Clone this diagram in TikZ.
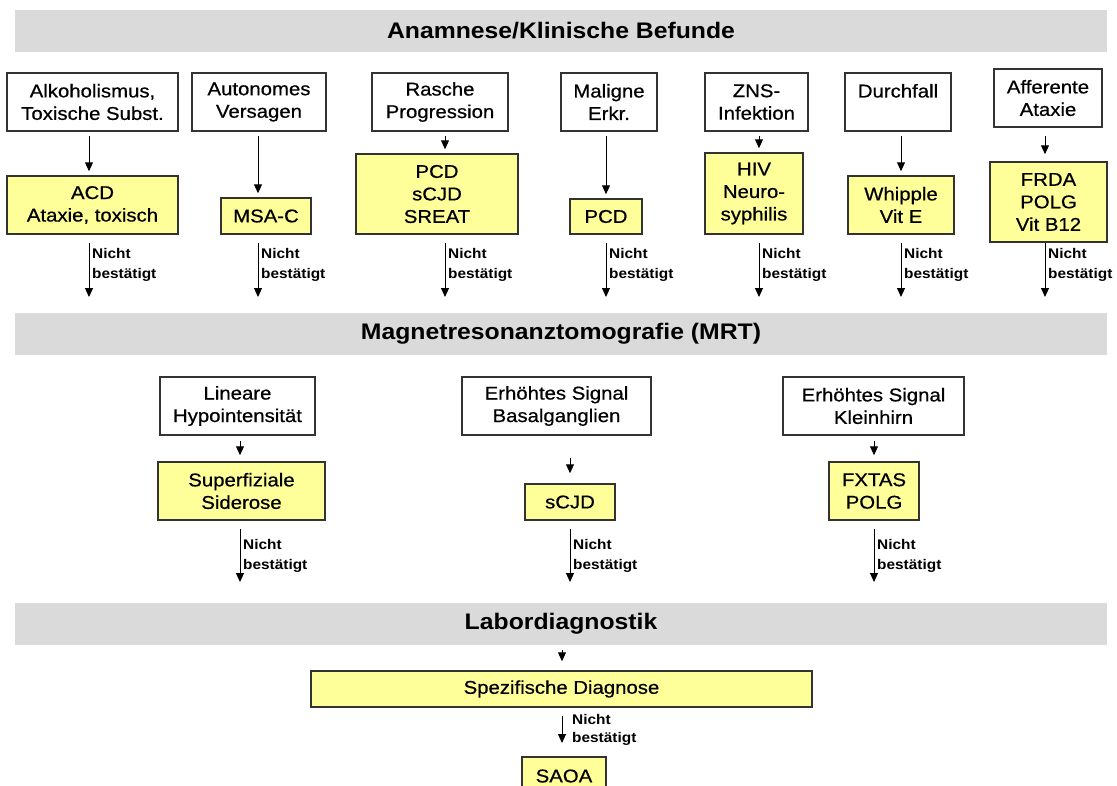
\documentclass[tikz,border=0pt]{standalone}
\usepackage{fontspec}
\setmainfont[FakeStretch=1.1]{Liberation Sans}
\newfontfamily\boxfont[FakeStretch=1.1,FakeBold=0.6]{Liberation Sans}
\usetikzlibrary{arrows.meta}
\definecolor{bandgray}{HTML}{DADADA}
\definecolor{ylw}{HTML}{FFFF99}
\definecolor{bord}{HTML}{333333}
\tikzset{
 box/.style={draw=bord, line width=1.5pt, inner sep=0pt, align=center, font=\boxfont\fontsize{18.5}{22.5}\selectfont},
 wbox/.style={box, fill=white},
 ybox/.style={box, fill=ylw},
 band/.style={fill=bandgray, draw=none, inner sep=0pt, font=\bfseries\fontsize{22.5}{26}\selectfont, minimum width=1092pt, minimum height=42pt},
 arr/.style={-{Triangle[length=9pt,width=8pt]}, line width=1pt, black},
 nb/.style={anchor=north west, inner sep=0pt, align=left, font=\bfseries\fontsize{14}{20}\selectfont},
}
\begin{document}
\begin{tikzpicture}[x=1pt,y=-1pt]
\clip (0,0) rectangle (1117,785);
\useasboundingbox (0,0) rectangle (1117,785);
\fill[white] (0,0) rectangle (1117,785);

% ---------- Section 1 ----------
\node[band] (h1) at (561,31) {Anamnese/Klinische Befunde};

\node[wbox, minimum width=171pt, minimum height=58pt] (a1) at (92.5,102) {Alkoholismus,\\Toxische Subst.};
\node[wbox, minimum width=134pt, minimum height=58pt] (a2) at (259,102) {Autonomes\\Versagen};
\node[wbox, minimum width=136pt, minimum height=58pt] (a3) at (440,102) {Rasche\\Progression};
\node[wbox, minimum width=96pt, minimum height=58pt] (a4) at (609,102) {Maligne\\Erkr.};
\node[wbox, minimum width=103pt, minimum height=58pt] (a5) at (756.5,102) {ZNS-\\Infektion};
\node[wbox, minimum width=106pt, minimum height=58pt] (a6) at (898,102) {Durchfall\\\mbox{}};
\node[wbox, minimum width=108pt, minimum height=58pt] (a7) at (1048,98) {Afferente\\Ataxie};

\node[ybox, minimum width=171pt, minimum height=58pt] (b1) at (92.5,205) {ACD\\Ataxie, toxisch};
\node[ybox, minimum width=90pt, minimum height=36pt] (b2) at (266,216) {MSA-C};
\node[ybox, minimum width=162pt, minimum height=80pt] (b3) at (437,194) {PCD\\sCJD\\SREAT};
\node[ybox, minimum width=72pt, minimum height=35pt] (b4) at (606,216.5) {PCD};
\node[ybox, minimum width=98pt, minimum height=81pt] (b5) at (754,193.5) {HIV\\Neuro-\\syphilis};
\node[ybox, minimum width=106pt, minimum height=58pt] (b6) at (901,205) {Whipple\\Vit E};
\node[ybox, minimum width=117pt, minimum height=80pt] (b7) at (1048.5,202) {FRDA\\POLG\\Vit B12};

\coordinate (n1) at (89,297);
\coordinate (n2) at (258,297);
\coordinate (n3) at (445,297);
\coordinate (n4) at (606,297);
\coordinate (n5) at (759,297);
\coordinate (n6) at (901,297);
\coordinate (n7) at (1045,297);

\foreach \i in {1,...,6}{
  \draw[arr, shorten <=4pt, shorten >=4pt] (a\i.south -| n\i) -- (b\i.north -| n\i);
  \draw[arr, shorten <=8pt] (b\i.south -| n\i) -- (n\i);
  \node[nb] at ([xshift=3pt]n\i |- 0,248) {Nicht\\bestätigt};
}
\draw[arr, shorten <=8pt, shorten >=7pt] (a7.south -| n7) -- (b7.north -| n7);
\draw[arr] (b7.south -| n7) -- (n7);
\node[nb] at ([xshift=3pt]n7 |- 0,248) {Nicht\\bestätigt};

% ---------- Section 2 ----------
\node[band] (h2) at (561,334) {Magnetresonanztomografie (MRT)};

\node[wbox, minimum width=155pt, minimum height=58pt] (c1) at (237.5,406) {Lineare\\Hypointensität};
\node[wbox, minimum width=189pt, minimum height=58pt] (c2) at (556.5,406) {Erhöhtes Signal\\Basalganglien};
\node[wbox, minimum width=181pt, minimum height=58pt] (c3) at (873.5,406) {Erhöhtes Signal\\Kleinhirn};

\node[ybox, minimum width=167pt, minimum height=58pt] (d1) at (241.5,491) {Superfiziale\\Siderose};
\node[ybox, minimum width=90pt, minimum height=36pt] (d2) at (570,502) {sCJD};
\node[ybox, minimum width=90pt, minimum height=58pt] (d3) at (874,491) {FXTAS\\POLG};

\coordinate (m1) at (240,582);
\coordinate (m2) at (570,582);
\coordinate (m3) at (874,582);

\draw[arr, shorten <=5pt, shorten >=6pt] (c1.south -| m1) -- (d1.north -| m1);
\draw[arr, shorten <=22pt, shorten >=10pt] (c2.south -| m2) -- (d2.north -| m2);
\draw[arr, shorten <=5pt, shorten >=6pt] (c3.south -| m3) -- (d3.north -| m3);

\foreach \i in {1,2,3}{
  \draw[arr, shorten <=8pt] (d\i.south -| m\i) -- (m\i);
  \node[nb] at ([xshift=3pt]m\i |- 0,539) {Nicht\\bestätigt};
}

% ---------- Section 3 ----------
\node[band] (h3) at (561,624) {Labordiagnostik};
\node[ybox, minimum width=501pt, minimum height=36pt] (e1) at (561.5,689) {Spezifische Diagnose};
\node[ybox, minimum width=84pt, minimum height=38pt] (f1) at (564,776) {SAOA};
\coordinate (l1) at (562,743);
\draw[arr, shorten <=5pt, shorten >=9pt] (h3.south -| l1) -- (e1.north -| l1);
\draw[arr, shorten <=8pt] (e1.south -| l1) -- (l1);
\node[nb, font=\bfseries\fontsize{14}{18}\selectfont] at (572,714) {Nicht\\bestätigt};
\end{tikzpicture}
\end{document}
